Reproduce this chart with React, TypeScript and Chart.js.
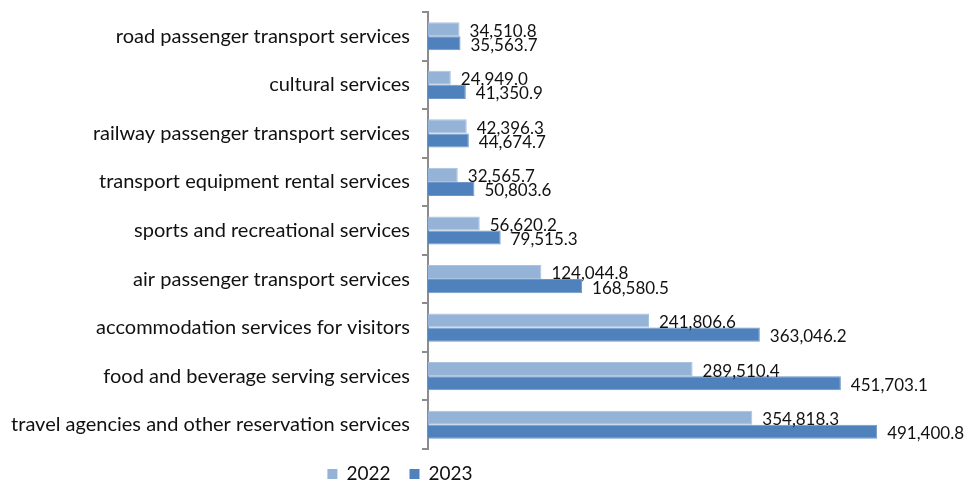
import React, { useEffect, useRef } from "react";
import { Chart, registerables } from "chart.js";

Chart.register(...registerables);

const categories = [
  "road passenger transport services",
  "cultural services",
  "railway passenger transport services",
  "transport equipment rental services",
  "sports and recreational services",
  "air passenger transport services",
  "accommodation services for visitors",
  "food and beverage serving services",
  "travel agencies and other reservation services",
];

const values2022 = [34510.8, 24949.0, 42396.3, 32565.7, 56620.2, 124044.8, 241806.6, 289510.4, 354818.3];
const values2023 = [35563.7, 41350.9, 44674.7, 50803.6, 79515.3, 168580.5, 363046.2, 451703.1, 491400.8];

const seriesNames = ["2022", "2023"];
const xMax = 500000;

const FONT = "Lato, 'Open Sans', sans-serif";
const LIGHT = "#95B3D7";
const DARK = "#4F82BD";

const fmt = (v: number) =>
  v.toLocaleString("en-US", { minimumFractionDigits: 1, maximumFractionDigits: 1 });

const valueLabels = {
  id: "valueLabels",
  afterDatasetsDraw(chart: any) {
    const ctx = chart.ctx;
    ctx.save();
    ctx.font = `17px ${FONT}`;
    ctx.fillStyle = "#111";
    ctx.textAlign = "left";
    ctx.textBaseline = "middle";
    chart.data.datasets.forEach((ds: any, di: number) => {
      const meta = chart.getDatasetMeta(di);
      meta.data.forEach((bar: any, i: number) => {
        ctx.fillText(fmt(ds.data[i]), bar.x + 10, bar.y + 2);
      });
    });
    ctx.restore();
  },
};

const bottomLegend = {
  id: "bottomLegend",
  afterDraw(chart: any) {
    const ctx = chart.ctx;
    ctx.save();
    ctx.font = `19px ${FONT}`;
    ctx.textBaseline = "middle";
    ctx.textAlign = "left";
    const box = 10;
    const gap = 9;
    const itemGap = 19;
    const items = chart.data.datasets.map((ds: any) => ({
      label: ds.label,
      color: ds.backgroundColor,
      w: box + gap + ctx.measureText(ds.label).width,
    }));
    const total = items.reduce((s: number, it: any) => s + it.w, 0) + itemGap * (items.length - 1);
    let x = 400 - total / 2;
    const y = 474;
    items.forEach((it: any) => {
      ctx.fillStyle = it.color;
      ctx.fillRect(x, y - box / 2, box, box);
      ctx.fillStyle = "#111";
      ctx.fillText(it.label, x + box + gap, y);
      x += it.w + itemGap;
    });
    ctx.restore();
  },
};

export default function App() {
  const ref = useRef<HTMLCanvasElement | null>(null);
  useEffect(() => {
    if (!ref.current) return;
    const chart = new Chart(ref.current, {
      type: "bar",
      data: {
        labels: categories,
        datasets: [
          {
            label: seriesNames[0],
            data: values2022,
            backgroundColor: LIGHT,
            borderColor: "#A9C2E0",
            borderWidth: 1,
            categoryPercentage: 0.58,
            barPercentage: 1,
          },
          {
            label: seriesNames[1],
            data: values2023,
            backgroundColor: DARK,
            borderColor: "#6F97C9",
            borderWidth: 1,
            categoryPercentage: 0.58,
            barPercentage: 1,
          },
        ],
      },
      options: {
        indexAxis: "y",
        animation: false,
        responsive: false,
        maintainAspectRatio: false,
        layout: { padding: { top: 12, bottom: 33, right: 80, left: 0 } },
        plugins: { legend: { display: false }, tooltip: { enabled: false } },
        scales: {
          x: { display: false, min: 0, max: xMax },
          y: {
            grid: {
              display: true,
              drawOnChartArea: false,
              drawTicks: true,
              tickLength: 6,
              color: "#8C8C8C",
              lineWidth: 2,
            },
            border: { display: true, color: "#8C8C8C", width: 2 },
            ticks: { font: { family: FONT, size: 20 }, color: "#111", padding: 12 },
            afterFit: (s: any) => {
              s.width = 428;
              s.paddingTop = 0;
              s.paddingBottom = 0;
            },
          },
        },
      },
      plugins: [valueLabels, bottomLegend],
    });
    return () => chart.destroy();
  }, []);
  return (
    <div style={{ position: "absolute", left: 0, top: 0, width: 965, height: 482, background: "#fff" }}>
      <canvas ref={ref} width={965} height={482} style={{ width: 965, height: 482 }} />
    </div>
  );
}
